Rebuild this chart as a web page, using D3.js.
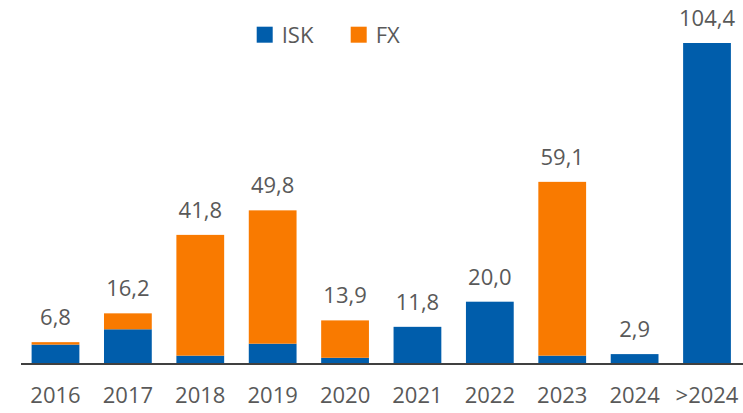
<!DOCTYPE html>
<html><head><meta charset="utf-8">
<script src="https://cdn.jsdelivr.net/npm/d3@7"></script>
<style>body{margin:0;background:#fff}svg{display:block}text{font-family:"Open Sans",sans-serif;fill:#595959}</style>
</head><body>
<svg id="c" width="743" height="413"></svg>
<script>
const categories = ["2016","2017","2018","2019","2020","2021","2022","2023","2024",">2024"];
const iskValues = [6.0, 11.0, 2.4, 6.3, 1.7, 11.8, 20.0, 2.4, 2.9, 104.4];
const fxValues  = [0.8, 5.2, 39.4, 43.5, 12.2, 0, 0, 56.7, 0, 0];
const totalLabels = ["6,8","16,2","41,8","49,8","13,9","11,8","20,0","59,1","2,9","104,4"];
const seriesNames = ["ISK","FX"];
const colors = {ISK:"#005DAB", FX:"#F97A00"};

const svg = d3.select("#c");
const baseY = 363, topY = 43;
const x = d3.scaleBand().domain(categories).range([19.3, 743.2]).paddingInner(0.34).paddingOuter(0.17);
const y = d3.scaleLinear().domain([0, 104.4]).range([baseY, topY]);

const data = categories.map((c,i)=>({cat:c, ISK:iskValues[i], FX:fxValues[i], label:totalLabels[i]}));
const stack = d3.stack().keys(seriesNames)(data);

svg.append("g").selectAll("g").data(stack).join("g")
  .attr("fill", d=>colors[d.key])
  .selectAll("rect").data(d=>d).join("rect")
  .attr("x", d=>x(d.data.cat))
  .attr("width", x.bandwidth())
  .attr("y", d=>y(d[1]))
  .attr("height", d=>Math.max(0, y(d[0])-y(d[1])));

// axis
const axis = d3.axisBottom(x).tickSize(0).tickPadding(21);
const ag = svg.append("g").attr("transform", `translate(0,${baseY+1})`).call(axis);
ag.select(".domain").attr("stroke","#000").attr("stroke-width",1.5).attr("d","M21,0H743");
ag.selectAll(".tick text").style("font-size","22px").attr("fill","#595959").attr("dy","0.8em");

// value labels
svg.append("g").selectAll("text").data(data).join("text")
  .attr("x", d=>x(d.cat)+x.bandwidth()/2)
  .attr("y", d=>y(d.ISK+d.FX)-17)
  .attr("text-anchor","middle")
  .style("font-size","22px")
  .text(d=>d.label);

// legend
const legX = [256.7, 350.7];
const lg = svg.append("g").selectAll("g").data(seriesNames).join("g")
  .attr("transform",(d,i)=>`translate(${legX[i]},26.7)`);
lg.append("rect").attr("width",16).attr("height",16).attr("fill",d=>colors[d]);
lg.append("text").attr("x",25).attr("y",16).style("font-size","22px").text(d=>d);
</script>
</body></html>
